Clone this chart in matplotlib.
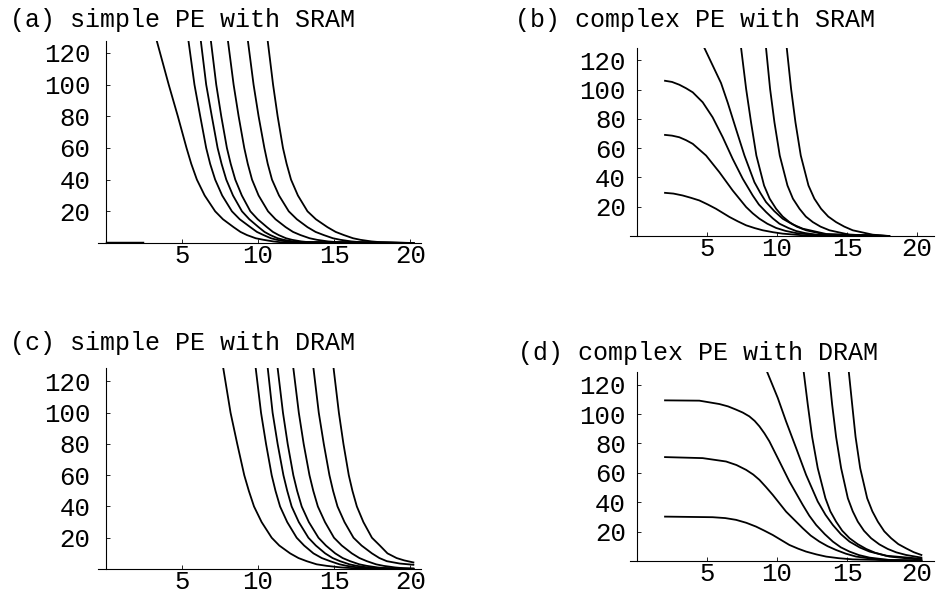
import matplotlib.pyplot as plt

# (a) simple PE with SRAM: every curve read at the same heights
a_levels = [127.5, 100, 80, 60, 50, 40, 30, 20, 15, 10, 7, 5, 3, 2, 1, 0.5, 0]
a_x = [
    [3.36, 4.14, 4.74, 5.31, 5.62, 5.99, 6.50, 7.19, 7.70, 8.40, 8.85, 9.28, 9.85, 10.37, 11.00, 11.47, 20.2],
    [5.44, 5.83, 6.21, 6.60, 6.86, 7.19, 7.65, 8.29, 8.80, 9.50, 9.93, 10.37, 10.85, 11.25, 11.85, 12.35, 20.2],
    [6.25, 6.60, 6.97, 7.35, 7.61, 7.92, 8.36, 8.95, 9.43, 10.04, 10.43, 10.81, 11.29, 11.69, 12.29, 12.79, 20.2],
    [6.91, 7.26, 7.59, 7.96, 8.21, 8.51, 8.94, 9.50, 9.98, 10.59, 10.98, 11.36, 11.84, 12.24, 12.84, 13.33, 20.2],
    [8.03, 8.40, 8.73, 9.10, 9.33, 9.61, 10.04, 10.66, 11.15, 11.82, 12.30, 12.79, 13.39, 13.88, 14.60, 15.20, 20.2],
    [9.34, 9.71, 10.04, 10.42, 10.64, 10.92, 11.38, 12.02, 12.55, 13.25, 13.78, 14.32, 14.92, 15.42, 16.13, 16.73, 20.2],
    [10.64, 10.99, 11.29, 11.64, 11.88, 12.17, 12.62, 13.25, 13.80, 14.56, 15.10, 15.64, 16.24, 16.73, 17.45, 18.05, 20.2],
]
a_y = [a_levels] * len(a_x)
a_base_x = [0.1, 2.4]
a_base_y = [0, 0]

# (b) complex PE with SRAM
b_x = [
    [2.0, 2.6, 3.26, 3.85, 4.45, 5.04, 5.64, 6.60, 7.2, 7.79, 8.4, 8.98, 9.7, 10.40, 11.83, 18.0],
    [2.0, 2.5, 3.02, 3.5, 3.98, 4.93, 5.88, 6.83, 7.79, 8.26, 8.74, 9.3, 9.93, 10.6, 11.36, 12.79, 18.0],
    [2.0, 2.5, 3.02, 3.5, 3.98, 4.69, 5.40, 6.12, 6.83, 7.55, 8.26, 8.7, 9.21, 9.7, 10.17, 10.8, 11.36, 12.0, 12.79, 14.0, 18.0],
    [4.81, 6.0, 6.48, 7.07, 7.67, 8.38, 8.8, 9.21, 9.8, 10.40, 11.1, 11.83, 13.5, 18.0],
    [7.43, 7.79, 8.14, 8.52, 9.07, 9.47, 9.93, 10.4, 10.88, 11.4, 12.07, 13.5, 18.0],
    [9.21, 9.50, 9.81, 10.19, 10.74, 11.13, 11.60, 12.05, 12.55, 13.1, 13.74, 15.17, 18.0],
    [10.69, 11.0, 11.31, 11.69, 12.24, 12.66, 13.14, 13.65, 14.21, 14.8, 15.40, 16.83, 18.0],
]
b_steep_y = [128.5, 100.5, 77.7, 55.0, 34.5, 25.5, 18.6, 13.3, 9.5, 6.4, 3.9, 0.9, 0]
b_y = [
    [29.5, 29.0, 27.7, 26.1, 24.3, 21.6, 18.6, 13.0, 10.0, 7.3, 5.4, 3.9, 2.6, 1.6, 0.5, 0],
    [69.1, 68.6, 67.5, 65.5, 63.0, 55.0, 43.6, 31.1, 19.8, 15.5, 11.8, 8.4, 5.5, 3.5, 2.0, 0.7, 0],
    [106.1, 105.3, 103.4, 101.0, 98.2, 91.4, 81.1, 67.5, 52.7, 39.1, 27.7, 21.5, 16.4, 12.0, 8.4, 5.5, 3.4, 2.0, 0.9, 0.3, 0],
    [128.5, 104.5, 91, 73, 55, 36.8, 29.5, 23.2, 17.0, 11.8, 8.0, 5.0, 1.4, 0],
    b_steep_y,
    b_steep_y,
    b_steep_y,
]

# (c) simple PE with DRAM
c_x = [
    [7.72, 8.20, 8.64, 9.10, 9.40, 9.74, 10.24, 10.90, 11.40, 12.11, 12.66, 13.20, 13.85, 14.52, 15.45, 16.27, 20.2],
    [9.85, 10.20, 10.53, 10.90, 11.15, 11.45, 11.92, 12.54, 13.03, 13.64, 14.19, 14.74, 15.35, 15.83, 16.55, 17.15, 20.2],
    [10.64, 10.96, 11.29, 11.67, 11.92, 12.21, 12.68, 13.31, 13.80, 14.41, 14.90, 15.39, 16.00, 16.49, 17.20, 17.81, 20.2],
    [11.29, 11.64, 11.95, 12.32, 12.57, 12.87, 13.34, 13.97, 14.46, 15.07, 15.56, 16.05, 16.65, 17.15, 17.85, 18.46, 20.2],
    [12.32, 12.68, 13.00, 13.38, 13.63, 13.93, 14.40, 14.99, 15.50, 16.16, 16.66, 17.15, 17.75, 18.25, 19.00, 19.56, 20.2],
    [13.64, 13.99, 14.32, 14.69, 14.93, 15.22, 15.68, 16.27, 16.80, 17.48, 17.97, 18.46, 19.3, 20.2],
    [14.96, 15.31, 15.61, 15.96, 16.20, 16.49, 16.92, 17.48, 18.0, 18.5, 19.1, 19.6, 20.2],
]
c_levels = [128.6, 100, 80, 60, 50, 40, 30, 20, 15, 10, 7, 5, 3, 2, 1, 0.5, 0]
c_y = [
    c_levels,
    c_levels,
    c_levels,
    c_levels[:-1] + [0.2],
    c_levels[:-1] + [0.3],
    [128.6, 100, 80, 60, 50, 40, 30, 20, 15, 10, 7, 5, 3.5, 2.7],
    [128.6, 100, 80, 60, 50, 40, 30, 20, 15, 10, 7, 5.5, 4.2],
]

# (d) complex PE with DRAM
d_x = [
    [2.0, 5.40, 6.3, 7.07, 7.8, 8.50, 9.1, 9.69, 10.88, 11.5, 12.07, 12.8, 13.50, 14.4, 15.40, 20.3],
    [2.0, 4.69, 6.36, 7.1, 7.79, 8.3, 8.74, 9.2, 9.69, 10.64, 11.83, 12.4, 13.02, 13.6, 14.21, 14.9, 15.64, 17.31, 20.3],
    [2.0, 4.45, 5.88, 6.5, 7.07, 7.55, 8.02, 8.4, 8.74, 9.1, 9.45, 10.17, 10.88, 11.83, 12.3, 12.79, 13.4, 13.98, 14.55, 15.17, 15.85, 16.6, 18.02, 20.3],
    [9.29, 10.05, 10.64, 11.36, 12.07, 12.90, 13.45, 13.98, 14.55, 15.17, 15.9, 16.6, 18.02, 20.3],
    [11.90, 12.19, 12.50, 12.90, 13.45, 13.8, 14.21, 14.65, 15.17, 15.75, 16.36, 17.0, 17.79, 20.3],
    [13.69, 13.93, 14.21, 14.57, 15.05, 15.4, 15.76, 16.2, 16.71, 17.3, 17.9, 18.5, 19.21, 20.3],
    [15.12, 15.36, 15.60, 15.93, 16.43, 16.8, 17.19, 17.65, 18.14, 18.65, 19.21, 19.75, 20.3],
]
d_y = [
    [30.2, 29.8, 29.2, 28, 26.0, 23.4, 20.6, 17.7, 10.9, 8.4, 6.4, 4.5, 3.0, 1.9, 1.1, 0.1],
    [70.7, 70.0, 67.7, 65.3, 62.0, 58.8, 55.2, 50.4, 45, 33.6, 22.3, 17.3, 13.2, 10.1, 7.5, 5.0, 3.0, 0.9, 0.1],
    [109.3, 109.1, 106.8, 105.2, 103, 101, 98.4, 95.3, 91.6, 86.8, 81.4, 67.7, 54.1, 38.2, 30.8, 24.5, 18.3, 13.2, 9.3, 6.4, 4.0, 2.3, 0.7, 0.2],
    [128.6, 110.9, 95, 76.8, 58.6, 40.5, 31.5, 24.5, 18.3, 13.2, 9.2, 6.4, 3.0, 0.8],
    [128.6, 106.4, 84.5, 63.2, 42.7, 33.8, 26.8, 20.6, 15.5, 11.5, 8.2, 5.6, 3.6, 1.5],
    [128.6, 106.4, 84.5, 63.2, 42.7, 33.8, 26.8, 20.6, 15.5, 11.3, 8.2, 5.9, 4.1, 2.3],
    [128.6, 106.4, 84.5, 63.2, 42.7, 33.8, 26.8, 20.2, 15.5, 11.5, 8.6, 6.0, 4.1],
]

titles = ["(a) simple PE with SRAM", "(b) complex PE with SRAM",
          "(c) simple PE with DRAM", "(d) complex PE with DRAM"]
x_ticks = [5, 10, 15, 20]
y_ticks = [20, 40, 60, 80, 100, 120]

FONT = "Liberation Mono"
W, H = 937, 595

fig = plt.figure(figsize=(9.37, 5.95), dpi=100)


def panel(box, xlim, ylim, xs, ys, ypad):
    # box in pixels: left, top, right, bottom
    l, t, r, b = box
    ax = fig.add_axes([l / W, 1 - b / H, (r - l) / W, (b - t) / H])
    for x, y in zip(xs, ys):
        ax.plot(x, y, color="black", lw=1.3, solid_joinstyle="round")
    ax.set_xlim(*xlim)
    ax.set_ylim(*ylim)
    ax.spines["top"].set_visible(False)
    ax.spines["right"].set_visible(False)
    ax.spines["left"].set_position(("data", 0))
    for s in ("left", "bottom"):
        ax.spines[s].set_linewidth(0.8)
    ax.set_xticks(x_ticks)
    ax.set_yticks(y_ticks)
    ax.tick_params(axis="both", direction="in", length=3, width=0.6,
                   labelsize=18.5)
    ax.tick_params(axis="y", pad=ypad)
    ax.tick_params(axis="x", pad=0.5)
    for lab in ax.get_xticklabels() + ax.get_yticklabels():
        lab.set_family(FONT)
    ax.patch.set_alpha(0)
    return ax


ax_a = panel((98, 41, 421, 243), (-0.5, 20.7), (0, 127.5), a_x, a_y, 11)
ax_a.plot(a_base_x, a_base_y, color="black", lw=2.5)
panel((630, 48, 934, 236), (-0.5, 21.2), (0, 128.5), b_x, b_y, 8)
panel((98, 368, 421, 569), (-0.5, 20.7), (0, 128.6), c_x, c_y, 11)
panel((630, 372, 934, 561), (-0.5, 21.2), (0, 128.6), d_x, d_y, 8)

title_pos = [(10, 20), (515, 20), (10, 343), (518, 353)]
for (px, py), txt in zip(title_pos, titles):
    fig.text(px / W, 1 - py / H, txt, family=FONT, fontsize=18,
             ha="left", va="center")

fig.savefig("out.png", dpi=100)
